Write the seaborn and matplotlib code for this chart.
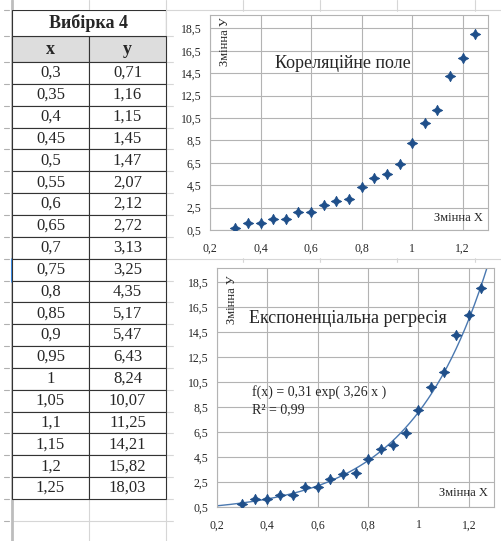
import matplotlib
matplotlib.use('Agg')
import matplotlib.pyplot as plt
from matplotlib.patches import Rectangle
from matplotlib.ticker import FuncFormatter
import numpy as np
import seaborn as sns

# дані вибірки 4
x_vals = [0.3, 0.35, 0.4, 0.45, 0.5, 0.55, 0.6, 0.65, 0.7, 0.75,
          0.8, 0.85, 0.9, 0.95, 1.0, 1.05, 1.1, 1.15, 1.2, 1.25]
y_vals = [0.71, 1.16, 1.15, 1.45, 1.47, 2.07, 2.12, 2.72, 3.13, 3.25,
          4.35, 5.17, 5.47, 6.43, 8.24, 10.07, 11.25, 14.21, 15.82, 18.03]
table_title = 'Вибірка 4'
col_names = ['x', 'y']
x_ticks = [0.2, 0.4, 0.6, 0.8, 1.0, 1.2]
y_ticks = [0.5, 2.5, 4.5, 6.5, 8.5, 10.5, 12.5, 14.5, 16.5, 18.5]
# коефіцієнти експоненціального тренду f(x) = a*exp(b*x)
fit_a = 0.31
fit_b = 3.26
fit_r2 = 0.99

sns.set_style('white')
plt.rcParams['font.family'] = ['Liberation Serif', 'DejaVu Serif']

W, H = 502, 541
fig = plt.figure(figsize=(W / 100, H / 100), dpi=100)


def px_axes(x0, y0, x1, y1, **kw):
    # прямокутник у пікселях (від верхнього лівого кута)
    return fig.add_axes([x0 / W, 1 - y1 / H, (x1 - x0) / W, (y1 - y0) / H], **kw)


def comma(v, pos=None):
    return f'{v:g}'.replace('.', ',')


# ---- фон електронної таблиці ----
bg = fig.add_axes([0, 0, 1, 1], zorder=0)
bg.set_xlim(0, W)
bg.set_ylim(H, 0)
bg.axis('off')
row_h = 21.85
rows_y = [10, 36] + [62 + k * row_h for k in range(23)]
cols_x = [12, 89, 166, 243, 320, 397, 475]
grid_c = '#d6d6d6'
for yy in rows_y:
    bg.plot([12, W], [yy, yy], color=grid_c, lw=0.8)
    bg.plot([4, 9], [yy, yy], color='#b0b0b0', lw=0.8)
for xx in cols_x[1:]:
    bg.plot([xx, xx], [0, H], color=grid_c, lw=0.8)
bg.plot([12, 12], [0, H], color='#bdbdbd', lw=2)
bg.plot([12, 12], [259, 281], color='#3d8fe8', lw=2.2)
# білі області діаграм
bg.add_patch(Rectangle((174, 12), W - 174, 245, color='white', zorder=2))
bg.add_patch(Rectangle((174, 263), W - 174, H - 263, color='white', zorder=2))

# ---- таблиця ----
tab_ax = px_axes(12, 10, 166, 499, zorder=3)
tab_ax.axis('off')
title_h = 26
head_h = 26
total = title_h + head_h + row_h * len(x_vals)
cell_text = [[comma(a), comma(b)] for a, b in zip(x_vals, y_vals)]
tbl = tab_ax.table(cellText=cell_text, colLabels=col_names, cellLoc='center',
                   bbox=[0, 0, 1, 1 - title_h / total])
tbl.auto_set_font_size(False)
tbl.set_fontsize(12)
for (r, c), cell in tbl.get_celld().items():
    cell.set_edgecolor('#333333')
    cell.set_linewidth(0.8)
    if r == 0:
        cell.set_height(head_h)
        cell.set_facecolor('#dddddd')
        cell.get_text().set_fontweight('bold')
        cell.get_text().set_fontsize(13)
    else:
        cell.set_height(row_h)
tab_ax.add_patch(Rectangle((0, 1 - title_h / total), 1, title_h / total,
                           facecolor='white', edgecolor='#333333', lw=0.8,
                           transform=tab_ax.transAxes))
tab_ax.text(0.5, 1 - title_h / total / 2, table_title, ha='center', va='center',
            fontsize=13, fontweight='bold', transform=tab_ax.transAxes)


def style_chart(ax, ymax):
    ax.set_xlim(0.2, 1.3)
    ax.set_ylim(0.5, ymax)
    ax.set_xticks(x_ticks)
    ax.set_yticks(y_ticks)
    ax.xaxis.set_major_formatter(FuncFormatter(comma))
    ax.yaxis.set_major_formatter(FuncFormatter(comma))
    ax.grid(True, color='#b3b3b3', lw=0.8)
    ax.set_axisbelow(True)
    for sp in ax.spines.values():
        sp.set_color('#b3b3b3')
        sp.set_linewidth(0.8)
    ax.tick_params(axis='both', direction='out', length=3, width=0.8,
                   color='#b3b3b3', labelsize=8.5, pad=3)
    ax.tick_params(axis='x', pad=6)
    ax.set_xlabel('')
    ax.set_ylabel('')


star = (4, 1, 0)
dot_c = '#1f4f8a'

# ---- кореляційне поле ----
ax1 = px_axes(210, 15, 488, 230, zorder=4)
sns.scatterplot(x=x_vals, y=y_vals, ax=ax1, marker=star, s=55,
                color=dot_c, edgecolor=dot_c, linewidth=0.6, zorder=3)
style_chart(ax1, 19.7)
ax1.text(0.26, 17.3, 'Змінна У', rotation=90, ha='center', va='center', fontsize=9)
ax1.text(0.724, 15.4, 'Кореляційне поле', ha='center', va='center', fontsize=13)
ax1.text(1.28, 1.6, 'Змінна X', ha='right', va='center', fontsize=9)

# ---- експоненціальна регресія ----
ax2 = px_axes(217, 268, 494, 507, zorder=4)
xs = np.linspace(0.2, 1.3, 300)
sns.lineplot(x=xs, y=fit_a * np.exp(fit_b * xs), ax=ax2, color='#4a78b0', lw=1, zorder=2)
sns.scatterplot(x=x_vals, y=y_vals, ax=ax2, marker=star, s=55,
                color=dot_c, edgecolor=dot_c, linewidth=0.6, zorder=3)
style_chart(ax2, 19.6)
ax2.text(0.26, 17.1, 'Змінна У', rotation=90, ha='center', va='center', fontsize=9)
ax2.text(0.72, 15.6, 'Експоненціальна регресія', ha='center', va='center', fontsize=13)
ax2.text(0.339, 9.7, f'f(x) = {comma(fit_a)} exp( {comma(fit_b)} x )',
         ha='left', va='center', fontsize=10)
ax2.text(0.339, 8.26, f'R² = {comma(fit_r2)}', ha='left', va='center', fontsize=10)
ax2.text(1.275, 1.6, 'Змінна X', ha='right', va='center', fontsize=9)

fig.savefig('out.png', dpi=100)
